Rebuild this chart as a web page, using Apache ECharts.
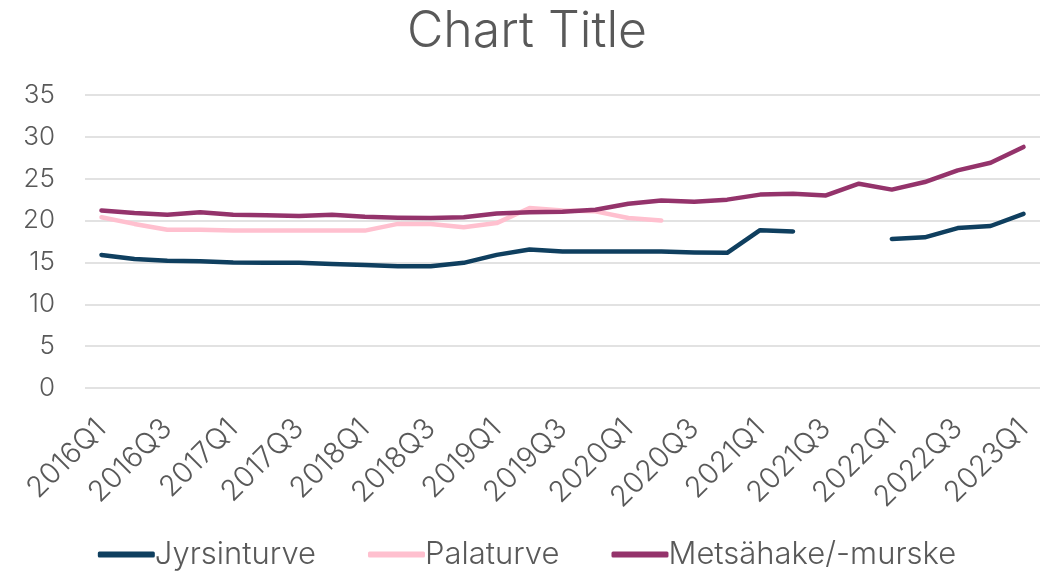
<!DOCTYPE html>
<html><head><meta charset="utf-8">
<script src="https://cdn.jsdelivr.net/npm/echarts@6/dist/echarts.min.js"></script>
<style>html,body{margin:0;padding:0;background:#fff}#c{width:1054px;height:577px}</style>
</head><body><div id="c"></div>
<script>
const categories = [];
for (let y = 2016; y <= 2023; y++) for (let q = 1; q <= 4; q++) { if (y === 2023 && q > 1) break; categories.push(y + 'Q' + q); }
const jyrsinturve = [15.9,15.4,15.2,15.15,15.0,14.95,14.95,14.8,14.7,14.55,14.55,14.95,15.9,16.55,16.3,16.3,16.3,16.3,16.2,16.15,18.85,18.7,null,null,17.8,18.0,19.1,19.35,20.8];
const palaturve = [20.4,19.6,18.9,18.9,18.8,18.8,18.8,18.8,18.8,19.6,19.6,19.2,19.7,21.5,21.2,21.1,20.3,20.0,null,null,null,null,null,null,null,null,null,null,null];
const metsahake = [21.2,20.9,20.7,21.0,20.7,20.65,20.55,20.7,20.45,20.35,20.3,20.4,20.85,21.0,21.05,21.3,22.0,22.4,22.25,22.5,23.1,23.2,23.0,24.4,23.7,24.6,26.0,26.9,28.8];
const yTicks = [0,5,10,15,20,25,30,35];
const seriesNames = ['Jyrsinturve','Palaturve','Metsähake/-murske'];
const colors = ['#0f3f5f','#ffc0cf','#94336b'];
const font = 'Inter, "Open Sans", sans-serif';
const chart = echarts.init(document.getElementById('c'));
const mk = (name, data, color) => ({
  name, type: 'line', data, connectNulls: false, showSymbol: false, symbol: 'none',
  lineStyle: { width: 4.5, color, cap: 'round', join: 'round' }, itemStyle: { color }
});
chart.setOption({
  animation: false,
  title: { text: 'Chart Title', left: 'center', top: 2, textStyle: { fontFamily: font, fontSize: 50, fontWeight: 300, color: '#595959' } },
  grid: { left: 85, right: 14, top: 95, bottom: 189 },
  legend: {
    bottom: 2, left: 'center', itemWidth: 57, itemHeight: 6, itemGap: 52,
    icon: 'roundRect',
    textStyle: { fontFamily: font, fontSize: 31, fontWeight: 300, color: '#595959', padding: [0,0,0,-5] },
    data: seriesNames
  },
  xAxis: {
    type: 'category', data: categories, boundaryGap: true,
    axisLine: { show: false }, axisTick: { show: false },
    axisLabel: { interval: 1, rotate: 45, margin: 36, fontFamily: font, fontSize: 29, fontWeight: 300, color: '#595959' }
  },
  yAxis: {
    type: 'value', min: yTicks[0], max: yTicks[yTicks.length-1], interval: 5,
    axisLine: { show: false }, axisTick: { show: false },
    axisLabel: { margin: 30, fontFamily: font, fontSize: 26, fontWeight: 300, color: '#595959' },
    splitLine: { lineStyle: { color: '#d9d9d9', width: 1.5 } }
  },
  series: [mk(seriesNames[0], jyrsinturve, colors[0]), mk(seriesNames[1], palaturve, colors[1]), mk(seriesNames[2], metsahake, colors[2])]
});
</script></body></html>
